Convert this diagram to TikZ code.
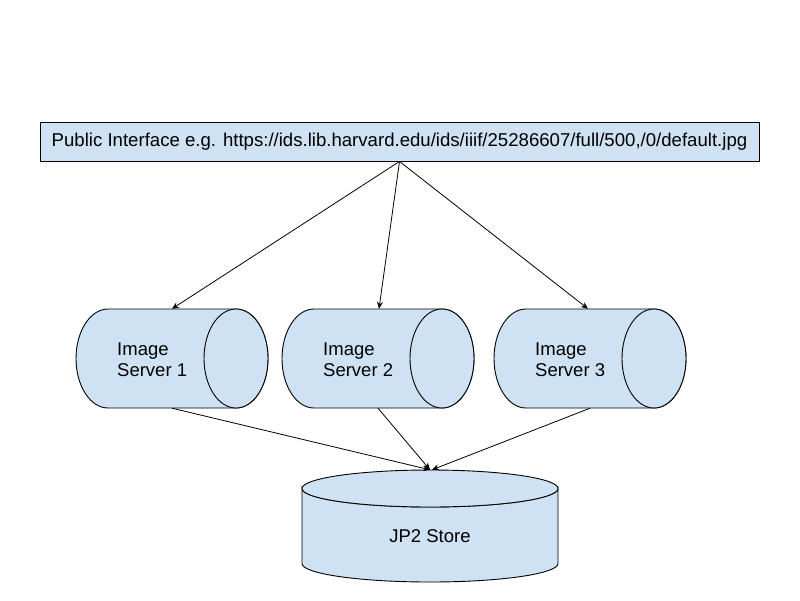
\documentclass[tikz,border=0pt]{standalone}
\usepackage{fontspec}
\setmainfont{Liberation Sans}
\usetikzlibrary{arrows.meta}
\definecolor{lblue}{HTML}{CFE2F3}
\begin{document}
\begin{tikzpicture}[x=1pt,y=-1pt,
  shapeline/.style={draw=black,line width=0.9pt,fill=lblue},
  conn/.style={line width=0.8pt,-{Stealth[length=7pt,width=6pt]}},
  lbl/.style={font=\fontsize{18.5}{21}\selectfont,inner sep=0pt,align=left,anchor=west},
  body/.style={inner sep=0pt,minimum width=128pt,minimum height=99pt}]
\useasboundingbox[fill=white] (0,0) rectangle (800,600);
% top box
\node[shapeline,minimum width=719pt,minimum height=39pt,inner sep=0pt,font=\fontsize{18.6}{21}\selectfont] (pub) at (399.5,141.5)
  {Public Interface e.g. https://ids.lib.harvard.edu/ids/iiif/25286607/full/500,/0/default.jpg};
% servers
\foreach \n/\cx in {s1/172,s2/378,s3/590}{
  \node[body] (\n) at (\cx,358.5) {};
  \path[shapeline] (\cx-64,309) -- (\cx+64,309) arc (-90:90:32 and 49.5) -- (\cx-64,408) arc (90:270:32 and 49.5) -- cycle;
  \draw[shapeline] (\cx+64,358.5) ellipse (32 and 49.5);
}
\node[lbl] (t1) at (117,359.5) {Image\\Server 1};
\node[lbl] (t2) at (323,359.5) {Image\\Server 2};
\node[lbl] (t3) at (535,359.5) {Image\\Server 3};
% JP2 store
\node[inner sep=0pt,minimum width=256pt,minimum height=112pt] (jp) at (430,526) {};
\path[shapeline] (302,488.5) -- (302,563.5) arc (180:0:128 and 18.5) -- (558,488.5) arc (0:180:128 and 18.5) -- cycle;
\draw[shapeline] (430,488.5) ellipse (128 and 18.5);
\node[font=\fontsize{18.5}{21}\selectfont,inner sep=0pt] (jt) at (430,536) {JP2 Store};
% connectors
\draw[conn] (pub.south) -- (s1.north);
\draw[conn] (pub.south) -- ([xshift=1pt]s2.north);
\draw[conn] (pub.south) -- ([xshift=-2pt]s3.north);
\draw[conn] (s1.south) -- (jp.north);
\draw[conn] (s2.south) -- (jp.north);
\draw[conn] (s3.south) -- ([xshift=2pt]jp.north);
\end{tikzpicture}
\end{document}
